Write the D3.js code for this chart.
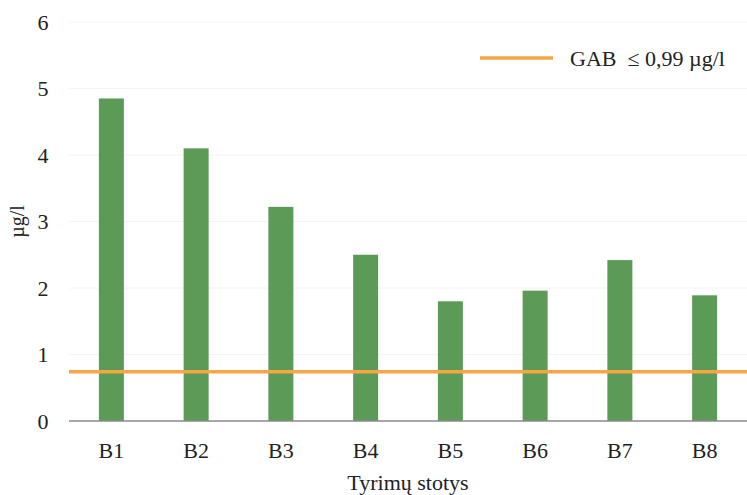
<!DOCTYPE html>
<html><head><meta charset="utf-8">
<script src="https://cdn.jsdelivr.net/npm/d3@7"></script>
<style>body{margin:0;background:#fff}svg{display:block}</style>
</head><body>
<script>
const categories = ["B1","B2","B3","B4","B5","B6","B7","B8"];
const values = [4.85, 4.10, 3.22, 2.50, 1.80, 1.96, 2.42, 1.89];
const yTicks = [0,1,2,3,4,5,6];
const limitValue = 0.74;
const limitLabel = "GAB  \u2264 0,99 \u00b5g/l";
const yLabel = "\u00b5g/l";
const xLabel = "Tyrimų stotys";

const W = 747, H = 495;
const m = {left: 69, right: 0, top: 22, bottom: 74};
const FONT = "font-family:'Liberation Serif'";
const svg = d3.select("body").append("svg").attr("width", W).attr("height", H).attr("style", FONT);

const x = d3.scaleBand().domain(categories).range([m.left, W - m.right]).paddingInner(0.705).paddingOuter(0.3525);
const y = d3.scaleLinear().domain([0, 6]).range([H - m.bottom, m.top]);

// faint gridlines
svg.append("g").selectAll("line").data(yTicks.filter(d => d > 0)).join("line")
  .attr("x1", m.left).attr("x2", W - m.right)
  .attr("y1", d => y(d)).attr("y2", d => y(d))
  .attr("stroke", "#f4f4f4").attr("stroke-width", 1);

// y axis labels
const yAxis = d3.axisLeft(y).tickValues(yTicks).tickSize(0).tickPadding(0).tickFormat(d3.format("d"));
const gy = svg.append("g").attr("transform", `translate(${m.left - 20},0)`).call(yAxis)
  .attr("font-family", null).attr("font-size", null);
gy.select(".domain").remove();
gy.selectAll("text").attr("style", FONT).attr("font-size", 22).attr("fill", "#222")
  .attr("text-anchor", "middle").attr("dx", -6);

// bars
svg.append("g").selectAll("rect").data(values).join("rect")
  .attr("x", (d, i) => x(categories[i]))
  .attr("width", x.bandwidth())
  .attr("y", d => y(d))
  .attr("height", d => y(0) - y(d))
  .attr("fill", "#5c9a57");

// baseline
svg.append("line").attr("x1", m.left).attr("x2", W - m.right)
  .attr("y1", y(0)).attr("y2", y(0)).attr("stroke", "#8a8a8a").attr("stroke-width", 1.5);

// x axis labels
const xAxis = d3.axisBottom(x).tickSize(0).tickPadding(0);
const gx = svg.append("g").attr("transform", `translate(0,${y(0) + 37})`).call(xAxis)
  .attr("font-family", null).attr("font-size", null);
gx.select(".domain").remove();
gx.selectAll("text").attr("style", FONT).attr("font-size", 22).attr("fill", "#222").attr("dy", 0);

// limit line
svg.append("line").attr("x1", m.left).attr("x2", W - m.right)
  .attr("y1", y(limitValue)).attr("y2", y(limitValue))
  .attr("stroke", "#f5a646").attr("stroke-width", 3.5);

// legend
svg.append("line").attr("x1", 480).attr("x2", 553).attr("y1", 58).attr("y2", 58)
  .attr("stroke", "#f5a646").attr("stroke-width", 3.5);
svg.append("text").attr("x", 570).attr("y", 66).attr("style", FONT + ";white-space:pre").attr("font-size", 22)
  .attr("fill", "#222").text(limitLabel);

// axis titles
svg.append("text").attr("transform", `translate(24,${y(3)}) rotate(-90)`).attr("text-anchor", "middle")
  .attr("style", FONT).attr("font-size", 20).attr("fill", "#222").text(yLabel);
svg.append("text").attr("x", 408).attr("y", 490).attr("text-anchor", "middle")
  .attr("style", FONT).attr("font-size", 22).attr("fill", "#222").text(xLabel);
</script>
</body></html>
